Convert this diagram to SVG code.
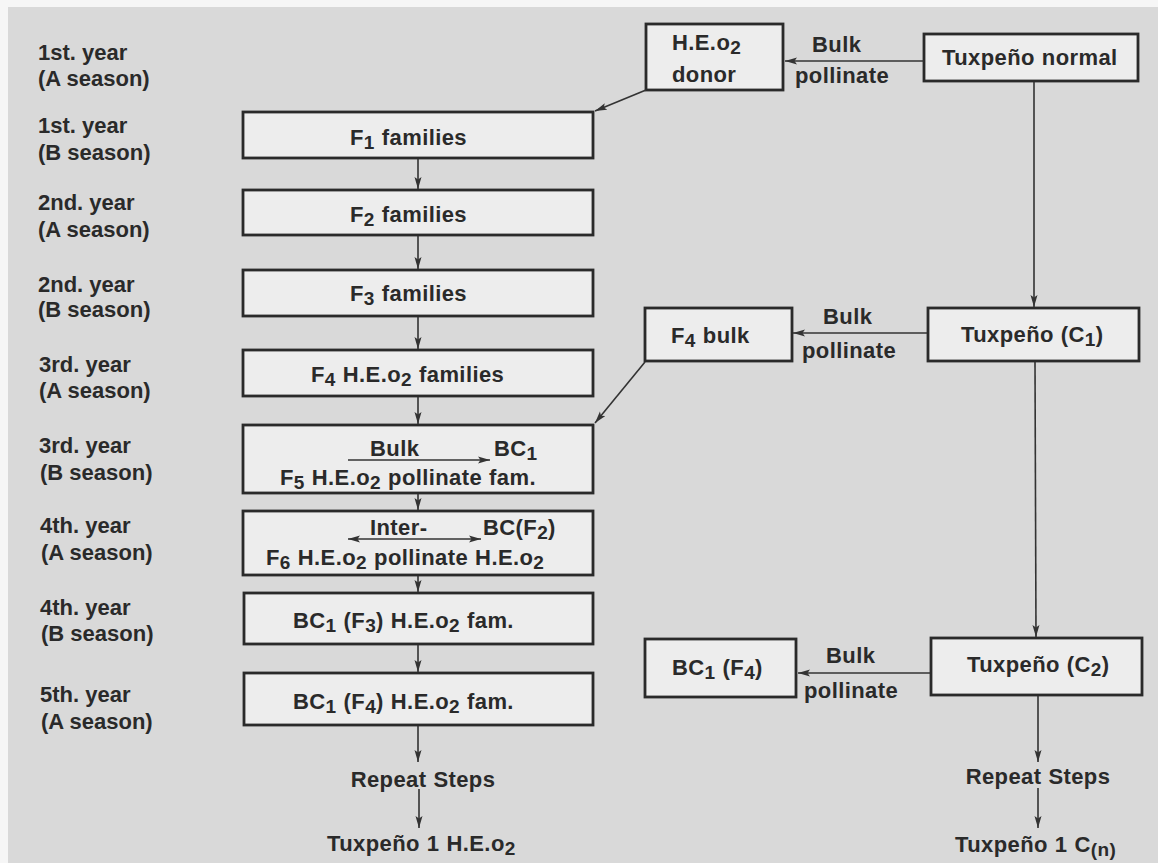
<svg xmlns="http://www.w3.org/2000/svg" width="1158" height="863" viewBox="0 0 1158 863">
<defs>
<style>
text{font-family:"Liberation Sans",Arial,Helvetica,sans-serif;font-weight:bold;font-size:22px;fill:#2a2a2a}
.bt{letter-spacing:0.4px;word-spacing:0.5px}
.box rect{fill:#ededed;stroke:#2a2a2a;stroke-width:2.8}
.c line{stroke:#333;stroke-width:1.6;fill:none}
.sub{font-size:19px}
</style>
<marker id="ah" markerUnits="userSpaceOnUse" markerWidth="13" markerHeight="8" refX="12" refY="4" orient="auto">
<path d="M0,0.5 L12,4 L0,7.5 L2.5,4 z" fill="#333"/>
</marker>
<marker id="ahs" markerUnits="userSpaceOnUse" markerWidth="13" markerHeight="8" refX="0" refY="4" orient="auto">
<path d="M12,0.5 L0,4 L12,7.5 L9.5,4 z" fill="#333"/>
</marker>
</defs>
<rect x="0" y="0" width="1158" height="863" fill="#f6f6f6"/>
<rect x="8" y="7" width="1150" height="856" fill="#d9d9d9"/>

<g id="labels">
<text x="38" y="60">1st. year</text><text x="38" y="86">(A season)</text>
<text x="38" y="133">1st. year</text><text x="38" y="160">(B season)</text>
<text x="38" y="210">2nd. year</text><text x="38" y="237">(A season)</text>
<text x="38" y="292">2nd. year</text><text x="38" y="317">(B season)</text>
<text x="39" y="372">3rd. year</text><text x="39" y="398">(A season)</text>
<text x="39" y="453">3rd. year</text><text x="40" y="480">(B season)</text>
<text x="40" y="533">4th. year</text><text x="41" y="560">(A season)</text>
<text x="40" y="615">4th. year</text><text x="41" y="641">(B season)</text>
<text x="40" y="702">5th. year</text><text x="41" y="729">(A season)</text>
</g>

<g id="hedonor" class="box">
<rect x="646" y="24" width="137" height="66"/>
<text class="bt" x="672" y="50">H.E.o<tspan class="sub" dy="4">2</tspan></text>
<text class="bt" x="672" y="82">donor</text>
</g>
<g id="lbl-bulk1">
<text class="bt" x="812" y="52">Bulk</text>
<text class="bt" x="795" y="83">pollinate</text>
</g>
<g id="tuxnormal" class="box">
<rect x="924" y="34" width="214" height="47"/>
<text class="bt" x="942" y="65">Tuxpeño normal</text>
</g>

<g id="f1" class="box">
<rect x="243" y="112" width="350" height="46"/>
<text class="bt" x="350" y="145">F<tspan class="sub" dy="4">1</tspan><tspan dy="-4"> families</tspan></text>
</g>
<g id="f2" class="box">
<rect x="243" y="190" width="350" height="45"/>
<text class="bt" x="350" y="222">F<tspan class="sub" dy="4">2</tspan><tspan dy="-4"> families</tspan></text>
</g>
<g id="f3" class="box">
<rect x="243" y="270" width="350" height="46"/>
<text class="bt" x="350" y="301">F<tspan class="sub" dy="4">3</tspan><tspan dy="-4"> families</tspan></text>
</g>
<g id="f4" class="box">
<rect x="243" y="350" width="350" height="46"/>
<text class="bt" x="311" y="382">F<tspan class="sub" dy="4">4</tspan><tspan dy="-4"> H.E.o</tspan><tspan class="sub" dy="4">2</tspan><tspan dy="-4"> families</tspan></text>
</g>
<g id="f5" class="box">
<rect x="243" y="425" width="350" height="68"/>
<text class="bt" x="370" y="456">Bulk</text>
<text class="bt" x="494" y="456">BC<tspan class="sub" dy="4">1</tspan></text>
<text class="bt" x="280" y="485">F<tspan class="sub" dy="4">5</tspan><tspan dy="-4"> H.E.o</tspan><tspan class="sub" dy="4">2</tspan><tspan dy="-4"> pollinate fam.</tspan></text>
</g>
<g id="f6" class="box">
<rect x="243" y="511" width="350" height="64"/>
<text class="bt" x="370" y="535">Inter-</text>
<text class="bt" x="483" y="535">BC(F<tspan class="sub" dy="4">2</tspan><tspan dy="-4">)</tspan></text>
<text class="bt" x="266" y="565">F<tspan class="sub" dy="4">6</tspan><tspan dy="-4"> H.E.o</tspan><tspan class="sub" dy="4">2</tspan><tspan dy="-4"> pollinate H.E.o</tspan><tspan class="sub" dy="4">2</tspan></text>
</g>
<g id="bc1f3" class="box">
<rect x="244" y="593" width="349" height="51"/>
<text class="bt" x="293" y="628">BC<tspan class="sub" dy="4">1</tspan><tspan dy="-4"> (F</tspan><tspan class="sub" dy="4">3</tspan><tspan dy="-4">) H.E.o</tspan><tspan class="sub" dy="4">2</tspan><tspan dy="-4"> fam.</tspan></text>
</g>
<g id="bc1f4" class="box">
<rect x="244" y="673" width="349" height="52"/>
<text class="bt" x="293" y="709">BC<tspan class="sub" dy="4">1</tspan><tspan dy="-4"> (F</tspan><tspan class="sub" dy="4">4</tspan><tspan dy="-4">) H.E.o</tspan><tspan class="sub" dy="4">2</tspan><tspan dy="-4"> fam.</tspan></text>
</g>
<g id="repeat-left">
<text class="bt" x="423" y="787" text-anchor="middle">Repeat Steps</text>
</g>
<g id="tux1he">
<text class="bt" x="327" y="851">Tuxpeño 1 H.E.o<tspan class="sub" dy="4">2</tspan></text>
</g>

<g id="f4bulk" class="box">
<rect x="645" y="308" width="147" height="53"/>
<text class="bt" x="671" y="343">F<tspan class="sub" dy="4">4</tspan><tspan dy="-4"> bulk</tspan></text>
</g>
<g id="lbl-bulk2">
<text class="bt" x="823" y="324">Bulk</text>
<text class="bt" x="802" y="358">pollinate</text>
</g>
<g id="c1" class="box">
<rect x="928" y="308" width="211" height="53"/>
<text class="bt" x="961" y="342">Tuxpeño (C<tspan class="sub" dy="4">1</tspan><tspan dy="-4">)</tspan></text>
</g>

<g id="bc1f4r" class="box">
<rect x="645" y="639" width="151" height="58"/>
<text class="bt" x="672" y="675">BC<tspan class="sub" dy="4">1</tspan><tspan dy="-4"> (F</tspan><tspan class="sub" dy="4">4</tspan><tspan dy="-4">)</tspan></text>
</g>
<g id="lbl-bulk3">
<text class="bt" x="826" y="663">Bulk</text>
<text class="bt" x="804" y="698">pollinate</text>
</g>
<g id="c2" class="box">
<rect x="931" y="638" width="211" height="57"/>
<text class="bt" x="967" y="672">Tuxpeño (C<tspan class="sub" dy="4">2</tspan><tspan dy="-4">)</tspan></text>
</g>
<g id="repeat-right">
<text class="bt" x="1038" y="784" text-anchor="middle">Repeat Steps</text>
</g>
<g id="tux1cn">
<text class="bt" x="955" y="852">Tuxpeño 1 C<tspan class="sub" dy="4">(n)</tspan></text>
</g>

<g class="c" id="connectors">
<line x1="924" y1="61" x2="785" y2="61" marker-end="url(#ah)"/>
<line x1="646" y1="90" x2="595" y2="111" marker-end="url(#ah)"/>
<line x1="418" y1="159" x2="418" y2="189" marker-end="url(#ah)"/>
<line x1="418" y1="236" x2="418" y2="269" marker-end="url(#ah)"/>
<line x1="418" y1="317" x2="418" y2="349" marker-end="url(#ah)"/>
<line x1="418" y1="397" x2="418" y2="424" marker-end="url(#ah)"/>
<line x1="418" y1="494" x2="418" y2="510" marker-end="url(#ah)"/>
<line x1="418" y1="576" x2="418" y2="592" marker-end="url(#ah)"/>
<line x1="418" y1="645" x2="418" y2="672" marker-end="url(#ah)"/>
<line x1="418" y1="726" x2="418" y2="762" marker-end="url(#ah)"/>
<line x1="419" y1="789" x2="419" y2="828" marker-end="url(#ah)"/>
<line x1="1034" y1="82" x2="1034" y2="307" marker-end="url(#ah)"/>
<line x1="927" y1="333" x2="793" y2="333" marker-end="url(#ah)"/>
<line x1="645" y1="362" x2="595" y2="423" marker-end="url(#ah)"/>
<line x1="1035" y1="362" x2="1036" y2="637" marker-end="url(#ah)"/>
<line x1="930" y1="673" x2="798" y2="673" marker-end="url(#ah)"/>
<line x1="1038" y1="696" x2="1038" y2="762" marker-end="url(#ah)"/>
<line x1="1038" y1="788" x2="1038" y2="828" marker-end="url(#ah)"/>
<line x1="348" y1="460" x2="490" y2="460" marker-end="url(#ah)"/>
<line x1="348" y1="539" x2="481" y2="539" marker-start="url(#ahs)" marker-end="url(#ah)"/>
</g>
</svg>
